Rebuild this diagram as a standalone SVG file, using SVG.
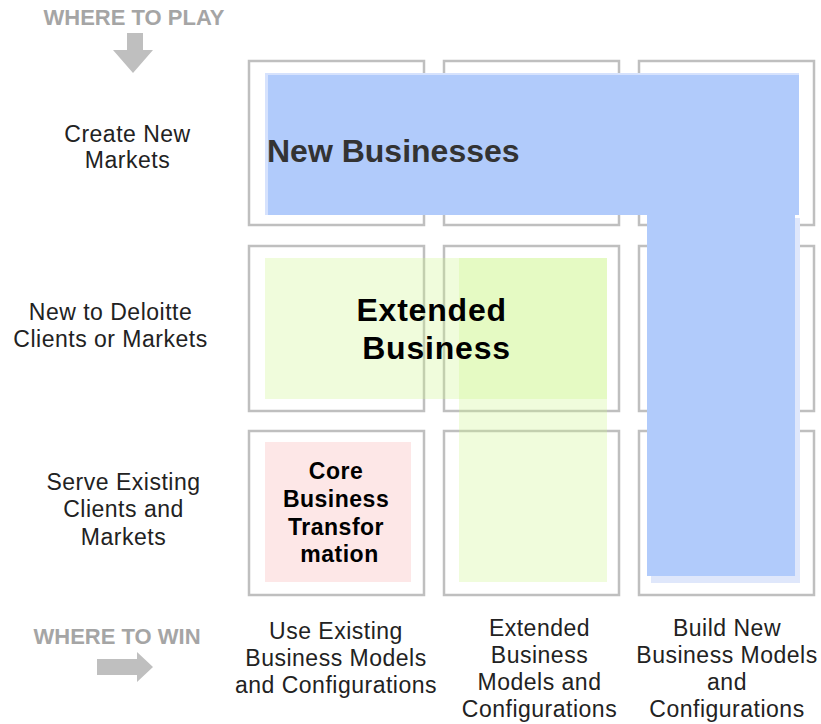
<svg xmlns="http://www.w3.org/2000/svg" width="821" height="724" viewBox="0 0 821 724">
<style>
  text { font-family: "Liberation Sans", Arial, sans-serif; }
  .cell { fill: #ffffff; stroke: #bfbfbf; stroke-width: 2.5; }
  .lbl { font-size: 23px; fill: #222222; text-anchor: middle; letter-spacing: 0.5px; }
  .hdr { font-size: 22px; font-weight: bold; fill: #a5a5a5; text-anchor: middle; }
  .arrow { fill: #bfbfbf; }
  .green { fill: rgb(205,245,140); fill-opacity: 0.3; }
  .blue { fill: #b1cbfb; }
  .big { font-weight: bold; }
</style>
<rect width="821" height="724" fill="#ffffff"/>

<g id="header-play">
  <text class="hdr" x="134" y="25">WHERE TO PLAY</text>
  <polygon class="arrow" points="127,33 143,33 143,50 153,50 133,73 113,50 127,50"/>
</g>
<g id="header-win">
  <text class="hdr" x="117" y="644">WHERE TO WIN</text>
  <polygon class="arrow" points="97,659 137,659 137,652 153,667 137,682 137,675 97,675"/>
</g>

<g id="grid">
  <rect class="cell" x="249" y="61" width="175" height="164"/>
  <rect class="cell" x="444" y="61" width="175" height="164"/>
  <rect class="cell" x="639" y="61" width="175" height="164"/>
  <rect class="cell" x="249" y="246" width="175" height="165"/>
  <rect class="cell" x="444" y="246" width="175" height="165"/>
  <rect class="cell" x="639" y="246" width="175" height="165"/>
  <rect class="cell" x="249" y="431" width="175" height="164"/>
  <rect class="cell" x="444" y="431" width="175" height="164"/>
  <rect class="cell" x="639" y="431" width="175" height="164"/>
</g>

<g id="core-business">
  <rect x="265" y="442" width="146" height="140" fill="#fde7e7"/>
  <text class="big" font-size="23" text-anchor="middle" fill="#000" letter-spacing="0.5">
    <tspan x="339.5" y="479">Core</tspan>
    <tspan x="339.5" y="507">Business</tspan>
    <tspan x="339.5" y="534.5">Transfor</tspan>
    <tspan x="339.5" y="562">mation</tspan>
  </text>
</g>

<g id="extended-business">
  <rect class="green" x="265" y="258" width="342" height="141"/>
  <rect class="green" x="459" y="258" width="148" height="324"/>
  <text class="big" font-size="32" text-anchor="middle" fill="#000" letter-spacing="0.8">
    <tspan x="436.5" y="321">Extended</tspan>
    <tspan x="436.5" y="359">Business</tspan>
  </text>
</g>

<g id="new-businesses">
  <rect x="651" y="218" width="149" height="365" fill="#dfe7fb"/>
  <rect x="265" y="73" width="534" height="142" fill="#d6e2fd"/>
  <rect class="blue" x="268" y="75" width="531" height="140"/>
  <rect class="blue" x="647" y="214" width="148" height="362"/>
  <text class="big" x="267" y="162" font-size="32" fill="#333333">New Businesses</text>
</g>

<g id="row-labels">
  <text class="lbl"><tspan x="127.5" y="142">Create New</tspan><tspan x="127.5" y="168">Markets</tspan></text>
  <text class="lbl"><tspan x="110.5" y="320">New to Deloitte</tspan><tspan x="110.5" y="347">Clients or Markets</tspan></text>
  <text class="lbl"><tspan x="123.5" y="490">Serve Existing</tspan><tspan x="123.5" y="517">Clients and</tspan><tspan x="123.5" y="545">Markets</tspan></text>
</g>

<g id="col-labels">
  <text class="lbl"><tspan x="336" y="639">Use Existing</tspan><tspan x="336" y="666">Business Models</tspan><tspan x="336" y="693">and Configurations</tspan></text>
  <text class="lbl"><tspan x="539.5" y="636">Extended</tspan><tspan x="539.5" y="663">Business</tspan><tspan x="539.5" y="690">Models and</tspan><tspan x="539.5" y="717">Configurations</tspan></text>
  <text class="lbl"><tspan x="727" y="636">Build New</tspan><tspan x="727" y="663">Business Models</tspan><tspan x="727" y="690">and</tspan><tspan x="727" y="717">Configurations</tspan></text>
</g>
<g id="connectors"/>
</svg>
